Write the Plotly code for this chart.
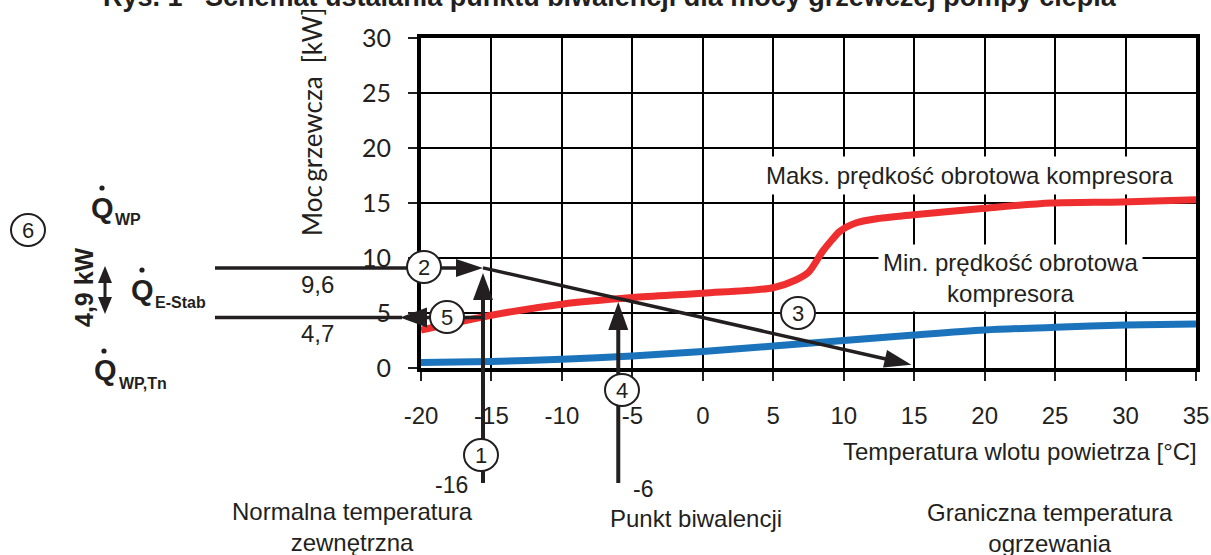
import plotly.graph_objects as go

# ---------------- data ----------------
temp_max = [-20, -15, -10, -5, 0, 5, 6.6, 7.5, 8.5, 9.2, 9.7, 10.9, 12.5, 14.8, 19.8, 24.7, 29.7, 35]
power_max = [3.45, 4.8, 5.8, 6.4, 6.8, 7.3, 8.0, 8.7, 10.6, 11.7, 12.4, 13.2, 13.6, 13.9, 14.5, 15.0, 15.1, 15.3]

temp_min = [-20, -15, -10, -5, 0, 5, 10, 15, 20, 25, 30, 35]
power_min = [0.5, 0.6, 0.8, 1.1, 1.5, 2.0, 2.5, 3.0, 3.45, 3.7, 3.9, 4.0]

x_ticks = [-20, -15, -10, -5, 0, 5, 10, 15, 20, 25, 30, 35]
y_ticks = [0, 5, 10, 15, 20, 25, 30]

# construction of the bivalence point
t_norm = -15.6          # drawn position of the normal outdoor temperature (label -16)
t_norm_label = "-16"
t_biv = -6              # bivalence point
t_biv_label = "-6"
q_norm = 9.1            # heat demand at normal outdoor temperature (label 9,6)
q_norm_label = "9,6"
q_hp = 4.6              # heat-pump power at normal outdoor temperature (label 4,7)
q_hp_label = "4,7"
q_biv = 6.0
t_limit = 14.8          # heating limit temperature (end of demand line)
q_limit = 0.3
delta_label = "4,9 kW"

# ---------------- geometry helpers ----------------
W, H = 1211, 555
L, R, T, B = 421, 15, 38, 187
PW, PH = W - L - R, H - T - B
XR, YR = (-20, 35), (0, 30)

def px(x):
    return L + (x - XR[0]) / (XR[1] - XR[0]) * PW

def py(y):
    return T + (YR[1] - y) / (YR[1] - YR[0]) * PH

def fx(p):
    return (p - L) / PW

def fy(p):
    return (T + PH - p) / PH

shapes = []
annotations = []
INK = "#231f20"
FS = 24

def seg(x0, y0, x1, y1, w=3.5):
    shapes.append(dict(type="line", xref="paper", yref="paper",
                       x0=fx(x0), y0=fy(y0), x1=fx(x1), y1=fy(y1),
                       line=dict(color=INK, width=w), layer="above"))

def head(tipx, tipy, fromx, fromy, length=27, half=9):
    dx, dy = tipx - fromx, tipy - fromy
    n = (dx * dx + dy * dy) ** 0.5
    ux, uy = dx / n, dy / n
    bx, by = tipx - ux * length, tipy - uy * length
    qx, qy = -uy, ux
    pts = [(tipx, tipy), (bx + qx * half, by + qy * half), (bx - qx * half, by - qy * half)]
    path = "M " + " L ".join(f"{fx(a):.5f} {fy(b):.5f}" for a, b in pts) + " Z"
    shapes.append(dict(type="path", xref="paper", yref="paper", path=path,
                       fillcolor=INK, line=dict(width=0), layer="above"))
    return bx + ux * 2, by + uy * 2

def arrow(x0, y0, x1, y1, w=3.5, length=27, half=9):
    bx, by = head(x1, y1, x0, y0, length, half)
    seg(x0, y0, bx, by, w)

def text(cx, cy, s, size=FS, bold=False, family="Liberation Sans, Arial, sans-serif",
         xanchor="center", angle=0, bg=None, pad=1, color=INK):
    a = dict(x=fx(cx), y=fy(cy), xref="paper", yref="paper", showarrow=False,
             text=f"<b>{s}</b>" if bold else s, xanchor=xanchor, yanchor="middle",
             textangle=angle, font=dict(family=family, size=size, color=color),
             borderpad=pad)
    if bg:
        a["bgcolor"] = bg
    annotations.append(a)

def circ(cx, cy, label, rx=17, ry=16):
    shapes.append(dict(type="circle", xref="paper", yref="paper",
                       x0=fx(cx - rx), x1=fx(cx + rx), y0=fy(cy + ry), y1=fy(cy - ry),
                       fillcolor="white", line=dict(color=INK, width=2), layer="above"))
    text(cx, cy, label, size=22)

def dot(cx, cy, r=2.6):
    shapes.append(dict(type="circle", xref="paper", yref="paper",
                       x0=fx(cx - r), x1=fx(cx + r), y0=fy(cy + r), y1=fy(cy - r),
                       fillcolor=INK, line=dict(width=0), layer="above"))

LEFT_END = 215

# demand line (3) from normal-temperature point to heating limit
arrow(px(t_norm), py(q_norm), px(t_limit), py(q_limit))
# horizontal arrow (2) at the heat demand
arrow(LEFT_END, py(q_norm), px(t_norm), py(q_norm))
# horizontal arrow (5) at heat-pump power, pointing to the axis
seg(px(t_norm), py(q_hp), 426, py(q_hp))
head(400, py(q_hp), px(t_norm), py(q_hp), length=27, half=10)
seg(LEFT_END, py(q_hp), 402, py(q_hp))
# vertical arrow (1) at normal outdoor temperature
arrow(px(t_norm), 483, px(t_norm), py(q_norm) + 5, w=4, length=27, half=10)
# vertical arrow (4) at bivalence point
arrow(px(t_biv), 483, px(t_biv), py(q_biv), w=4, length=28, half=10)

# double arrow (delta) on the left
head(105, 266, 105, 290, length=17, half=7)
head(105, 314, 105, 290, length=17, half=7)
seg(105, 282, 105, 298, w=3)

# numbered circles
circ(424, 267, "2")
circ(447, 317, "5")
circ(798, 313, "3")
circ(481, 455, "1")
circ(622, 390, "4")
circ(28, 230, "6")

# texts
text(312, 122, "Moc\u2009grzewcza\u00a0\u00a0[kW]", size=26, family="Lato, Open Sans, sans-serif", angle=-90)
text(969, 175, "Maks. prędkość obrotowa kompresora", bg="white", pad=5)
text(1010, 278, "Min. prędkość obrotowa<br>kompresora", bg="white", pad=4)
text(1199, 452, "Temperatura wlotu powietrza [°C]", xanchor="right")
text(451, 485, t_norm_label, size=23)
text(643, 489, t_biv_label, size=23)
text(352, 527, "Normalna temperatura<br>zewnętrzna")
text(696, 518, "Punkt biwalencji")
text(1050, 528, "Graniczna temperatura<br>ogrzewania")
text(317, 284, q_norm_label)
text(317, 333, q_hp_label)

# left-hand symbols
text(84, 287, delta_label, size=25, bold=True, angle=-90)
for qx, qy, dx_, dy_, sub, subx, suby in [
    (102, 208, 102, 188, "WP", 113, 219),
    (142, 290, 142, 270, "E-Stab", 153, 302),
    (105, 370, 104, 351, "WP,Tn", 117, 383),
]:
    text(qx, qy, "Q", size=29, bold=True)
    dot(dx_, dy_)
    text(subx, suby, sub, size=16, bold=True, xanchor="left")

# clipped figure caption at the very top
annotations.append(dict(x=fx(610), xref="paper", y=fy(14), yref="paper", xanchor="center",
                        yanchor="bottom", showarrow=False,
                        text="<b>Rys. 1   Schemat ustalania punktu biwalencji dla mocy grzewczej pompy ciepła</b>",
                        font=dict(family="Liberation Sans, Arial, sans-serif", size=27, color=INK)))

# ---------------- figure ----------------
fig = go.Figure()
fig.add_trace(go.Scatter(x=temp_max, y=power_max, mode="lines",
                         line=dict(color="#ee2e2f", width=7, shape="spline", smoothing=0.8),
                         name="Maks. prędkość obrotowa kompresora", showlegend=False))
fig.add_trace(go.Scatter(x=temp_min, y=power_min, mode="lines",
                         line=dict(color="#1b74bb", width=7, shape="spline", smoothing=0.8),
                         name="Min. prędkość obrotowa kompresora", showlegend=False))

axis_common = dict(showgrid=True, gridcolor="black", gridwidth=1.7,
                   showline=True, linecolor="black", linewidth=4, mirror=True,
                   ticks="outside", ticklen=9, tickwidth=1.5, tickcolor=INK,
                   zeroline=False, fixedrange=True, automargin=False)
fig.update_xaxes(range=list(XR), tickvals=x_ticks, ticktext=[str(v) for v in x_ticks],
                 tickfont=dict(family="Liberation Sans, Arial, sans-serif", size=24, color=INK),
                 ticklabelstandoff=14, **axis_common)
fig.update_yaxes(range=list(YR), tickvals=y_ticks, ticktext=[str(v) for v in y_ticks],
                 tickfont=dict(family="Lato, Open Sans, sans-serif", size=25, color=INK),
                 ticklabelstandoff=12, **axis_common)

fig.update_layout(width=W, height=H, margin=dict(l=L, r=R, t=T, b=B, pad=0, autoexpand=False),
                  paper_bgcolor="white", plot_bgcolor="white",
                  shapes=shapes, annotations=annotations, showlegend=False)

fig.write_html("out.html", config={"displayModeBar": False},
               post_script="document.body.style.margin='0';document.body.style.overflow='hidden';")
